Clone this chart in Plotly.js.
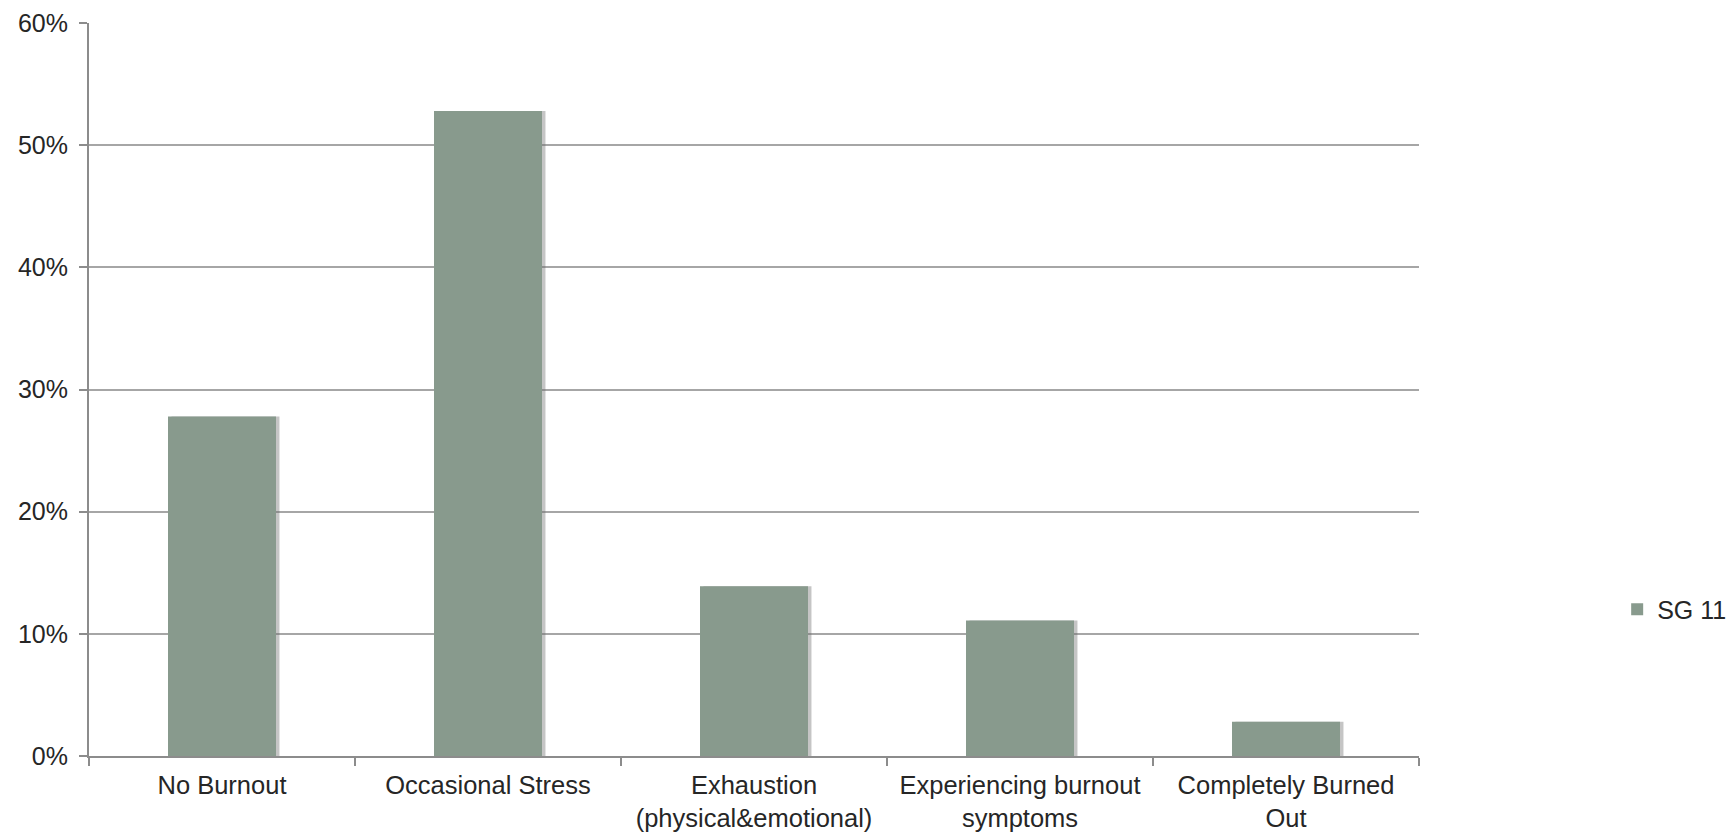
<!DOCTYPE html>
<html>
<head>
<meta charset="utf-8">
<script src="https://cdn.plot.ly/plotly-3.0.1.min.js"></script>
<style>
  html, body { margin: 0; padding: 0; background: #ffffff; }
  #chart { width: 1736px; height: 835px; }
</style>
</head>
<body>
<div id="chart"></div>
<script>
const categories = [
  "No Burnout",
  "Occasional Stress",
  "Exhaustion<br>(physical&emotional)",
  "Experiencing burnout<br>symptoms",
  "Completely Burned<br>Out"
];
const seriesName = "SG 11";
const seriesValues = [0.278, 0.528, 0.139, 0.111, 0.028];
const yTickValues = [0, 0.1, 0.2, 0.3, 0.4, 0.5, 0.6];

const family = "Liberation Sans, Arial, sans-serif";
const textColor = "#262626";
const yFont = { family: family, size: 25, color: textColor };
const xFont = { family: family, size: 25.5, color: textColor };
const legendFont = { family: family, size: 25, color: textColor };

const shadow = {
  type: "bar",
  x: categories,
  y: seriesValues,
  name: seriesName + " shadow",
  width: 0.406,
  offset: -0.19,
  marker: { color: "rgba(110,110,110,0.4)", line: { width: 0 } },
  showlegend: false,
  hoverinfo: "skip"
};

const trace = {
  type: "bar",
  x: categories,
  y: seriesValues,
  name: seriesName,
  width: 0.406,
  offset: -0.203,
  marker: { color: "#889a8d", line: { width: 0 } },
  showlegend: true
};

const layout = {
  width: 1736,
  height: 835,
  margin: { l: 89, r: 317, t: 23, b: 79, autoexpand: false },
  paper_bgcolor: "#ffffff",
  plot_bgcolor: "#ffffff",
  font: yFont,
  barmode: "overlay",
  xaxis: {
    type: "category",
    showline: true,
    linecolor: "#8c8c8c",
    linewidth: 2,
    ticks: "outside",
    tickson: "boundaries",
    ticklen: 8,
    tickwidth: 2,
    tickcolor: "#8c8c8c",
    showgrid: false,
    tickfont: xFont,
    ticklabelstandoff: 5,
    automargin: false
  },
  yaxis: {
    range: [0, 0.6],
    tickvals: yTickValues,
    tickformat: ".0%",
    showline: true,
    linecolor: "#8c8c8c",
    linewidth: 2,
    ticks: "outside",
    ticklen: 8,
    tickwidth: 2,
    tickcolor: "#8c8c8c",
    showgrid: true,
    gridcolor: "#a6a6a6",
    gridwidth: 2,
    zeroline: false,
    tickfont: yFont,
    ticklabelstandoff: 6,
    automargin: false
  },
  showlegend: true,
  legend: {
    x: 1.149,
    xanchor: "left",
    y: 0.2,
    yanchor: "middle",
    font: legendFont,
    bgcolor: "rgba(0,0,0,0)",
    itemwidth: 30
  }
};

Plotly.newPlot("chart", [shadow, trace], layout, { staticPlot: true, displayModeBar: false });
</script>
</body>
</html>
